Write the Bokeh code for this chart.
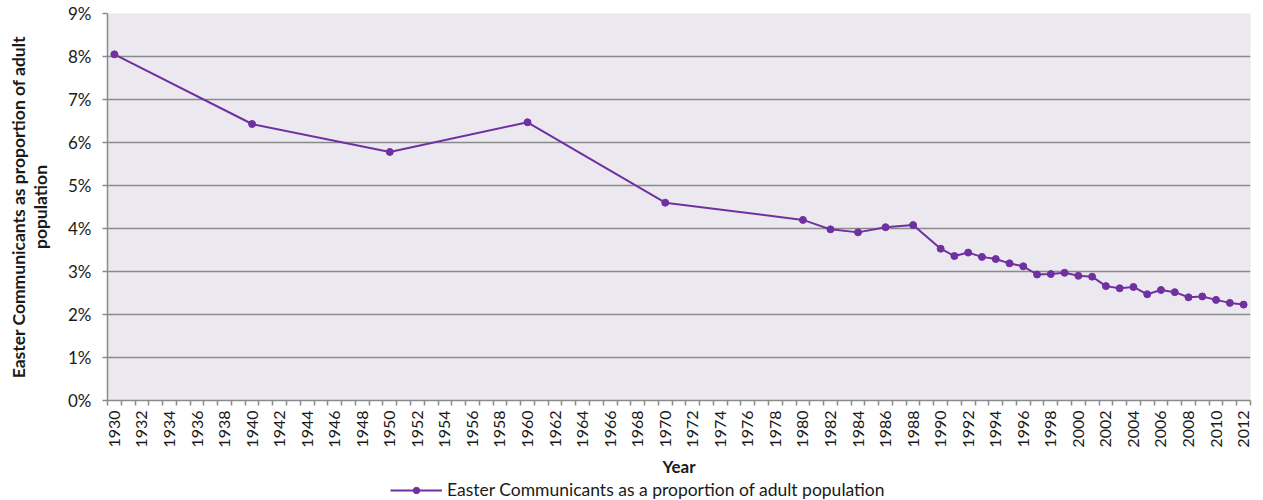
from bokeh.plotting import figure
from bokeh.layouts import column
from bokeh.models import FixedTicker, PrintfTickFormatter, Legend, LegendItem, Range1d
from bokeh.embed import file_html
from bokeh.resources import INLINE

years = [1930, 1940, 1950, 1960, 1970, 1980, 1982, 1984, 1986, 1988,
         1990, 1991, 1992, 1993, 1994, 1995, 1996, 1997, 1998, 1999,
         2000, 2001, 2002, 2003, 2004, 2005, 2006, 2007, 2008, 2009,
         2010, 2011, 2012]
share_pct = [8.05, 6.43, 5.78, 6.47, 4.60, 4.20, 3.98, 3.91, 4.03, 4.08,
             3.53, 3.36, 3.44, 3.34, 3.29, 3.19, 3.12, 2.93, 2.94, 2.97,
             2.90, 2.88, 2.66, 2.61, 2.64, 2.47, 2.57, 2.52, 2.40, 2.42,
             2.34, 2.27, 2.23]
x_tick_years = list(range(1930, 2013, 2))
y_ticks = [0, 1, 2, 3, 4, 5, 6, 7, 8, 9]
series_name = "Easter Communicants as a proportion of adult population"
y_title = "Easter Communicants as proportion of adult\npopulation"
x_title = "Year"

FONT = "Lato"
PURPLE = "#7030A0"
GRID = "#8A8A8A"
TXT = "#1a1a1a"

p = figure(frame_width=1143, frame_height=387, output_backend="svg",
           toolbar_location=None,
           x_range=Range1d(1929.5, 2012.5), y_range=Range1d(0, 9),
           min_border_left=107, min_border_right=5, min_border_top=13,
           min_border_bottom=78)
p.background_fill_color = "#EBE9EF"
p.border_fill_color = "white"
p.outline_line_color = None

p.xgrid.grid_line_color = None
p.ygrid.ticker = FixedTicker(ticks=y_ticks)
p.ygrid.grid_line_color = GRID
p.ygrid.grid_line_width = 1.5

p.yaxis.ticker = FixedTicker(ticks=y_ticks)
p.yaxis.formatter = PrintfTickFormatter(format="%d%%")
p.yaxis.axis_line_color = GRID
p.yaxis.axis_line_width = 1.5
p.yaxis.major_tick_line_color = GRID
p.yaxis.major_tick_line_width = 1.5
p.yaxis.major_tick_in = 0
p.yaxis.major_tick_out = 5
p.yaxis.minor_tick_line_color = None
p.yaxis.major_label_standoff = 11
p.yaxis.major_label_text_font = FONT
p.yaxis.major_label_text_font_size = "17px"
p.yaxis.major_label_text_color = TXT
p.yaxis.axis_label = y_title
p.yaxis.axis_label_text_font = FONT
p.yaxis.axis_label_text_font_style = "bold"
p.yaxis.axis_label_text_font_size = "17.5px"
p.yaxis.axis_label_text_line_height = 1.05
p.yaxis.axis_label_text_color = TXT
p.yaxis.axis_label_standoff = 14

p.xaxis.ticker = FixedTicker(ticks=x_tick_years,
                             minor_ticks=[y - 0.5 for y in range(1930, 2014)])
p.xaxis.axis_line_color = GRID
p.xaxis.axis_line_width = 1.5
p.xaxis.major_tick_line_color = None
p.xaxis.major_tick_in = 0
p.xaxis.major_tick_out = 5
p.xaxis.minor_tick_line_color = GRID
p.xaxis.minor_tick_line_width = 1.5
p.xaxis.minor_tick_in = 0
p.xaxis.minor_tick_out = 5
p.xaxis.major_label_orientation = 1.5708
p.xaxis.major_label_text_font = FONT
p.xaxis.major_label_text_font_size = "16px"
p.xaxis.major_label_text_color = TXT
p.xaxis.major_label_standoff = 5
p.xaxis.axis_label = x_title
p.xaxis.axis_label_text_font = FONT
p.xaxis.axis_label_text_font_style = "bold"
p.xaxis.axis_label_text_font_size = "17px"
p.xaxis.axis_label_text_color = TXT
p.xaxis.axis_label_standoff = 5

p.line(years, share_pct, line_color=PURPLE, line_width=2)
p.scatter(years, share_pct, size=7, fill_color=PURPLE, line_color=PURPLE)

# Legend strip underneath the chart (series drawn out of view; only its legend key shows)
lg = figure(frame_width=1255, frame_height=22, output_backend="svg",
            toolbar_location=None, x_axis_location=None, y_axis_location=None,
            min_border=0, x_range=Range1d(0, 1), y_range=Range1d(0, 1))
lg.grid.visible = False
lg.outline_line_color = None
lg.background_fill_color = "white"
lg.border_fill_color = "white"
lg_ln = lg.line(years, share_pct, line_color=PURPLE, line_width=2)
lg_pt = lg.scatter(years, share_pct, size=7, fill_color=PURPLE, line_color=PURPLE)
legend = Legend(items=[LegendItem(label=series_name, renderers=[lg_ln, lg_pt])],
                orientation="horizontal", location=(390, 1),
                border_line_color=None, background_fill_alpha=0,
                label_text_font=FONT, label_text_font_size="17.5px",
                label_text_color=TXT, glyph_width=52, glyph_height=16,
                label_height=16,
                padding=0, margin=0, spacing=0, label_standoff=5)
lg.add_layout(legend, "center")

layout = column(p, lg, spacing=0)
open("out.html", "w").write(file_html(layout, INLINE))
